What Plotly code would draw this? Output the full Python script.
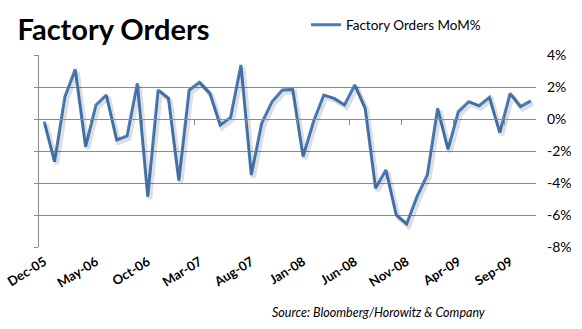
import plotly.graph_objects as go

months = ["Dec-05","Jan-06","Feb-06","Mar-06","Apr-06","May-06","Jun-06","Jul-06","Aug-06","Sep-06","Oct-06","Nov-06",
          "Dec-06","Jan-07","Feb-07","Mar-07","Apr-07","May-07","Jun-07","Jul-07","Aug-07","Sep-07","Oct-07","Nov-07",
          "Dec-07","Jan-08","Feb-08","Mar-08","Apr-08","May-08","Jun-08","Jul-08","Aug-08","Sep-08","Oct-08","Nov-08",
          "Dec-08","Jan-09","Feb-09","Mar-09","Apr-09","May-09","Jun-09","Jul-09","Aug-09","Sep-09","Oct-09","Nov-09"]
mom = [-0.17, -2.67, 1.4, 3.1, -1.73, 0.88, 1.5, -1.31, -1.06, 2.23, -4.85, 1.81,
       1.29, -3.85, 1.81, 2.29, 1.6, -0.38, 0.1, 3.38, -3.5, -0.27, 1.08, 1.81,
       1.85, -2.35, -0.17, 1.5, 1.29, 0.88, 2.13, 0.67, -4.33, -3.18, -6.0, -6.56,
       -4.85, -3.5, 0.67, -1.9, 0.46, 1.08, 0.83, 1.35, -0.85, 1.6, 0.77, 1.13]
tick_labels = ["Dec-05","May-06","Oct-06","Mar-07","Aug-07","Jan-08","Jun-08","Nov-08","Apr-09","Sep-09"]
y_ticks = [4, 2, 0, -2, -4, -6, -8]

FONT = "Lato"
n = len(months)
idx = list(range(n))
tick_idx = [months.index(t) for t in tick_labels]
yr = [-8, 4]

fig = go.Figure()
# soft shadow
fig.add_trace(go.Scatter(x=idx, y=mom, mode="lines", xaxis="x3", yaxis="y3",
                         line=dict(color="rgba(0,0,0,0.13)", width=5), hoverinfo="skip", showlegend=False))
fig.add_trace(go.Scatter(x=idx, y=mom, mode="lines", name="Factory Orders MoM%",
                         line=dict(color="#4a7ebb", width=3)))

fig.update_layout(
    width=582, height=329,
    margin=dict(l=39, r=46, t=55, b=82, autoexpand=False),
    paper_bgcolor="white", plot_bgcolor="white",
    showlegend=True,
    legend=dict(x=(306 - 39) / 497, y=1.156, xanchor="left", yanchor="middle", orientation="h",
                font=dict(family=FONT, size=13.5, color="#000"), bgcolor="rgba(0,0,0,0)"),
    title=dict(text="<b>Factory Orders</b>", x=0.03, xanchor="left", y=0.91, yanchor="middle",
               font=dict(family=FONT, size=29, color="#000")),
    xaxis=dict(range=[-0.5, n - 0.5], tickmode="array", tickvals=tick_idx, ticktext=tick_labels,
               tickangle=-32, showgrid=False, zeroline=False, showline=False, ticks="",
               ticklabelstandoff=4,
               tickfont=dict(family=FONT, size=13, color="#000", weight="bold")),
    yaxis=dict(range=yr, tickvals=y_ticks, showticklabels=False, showgrid=True, gridcolor="#8c8c8c",
               gridwidth=1, zeroline=False, showline=True, linecolor="#8c8c8c", ticks="outside",
               ticklen=4, tickcolor="#8c8c8c"),
    yaxis2=dict(range=yr, overlaying="y", side="right", tickvals=y_ticks,
                ticktext=[f"{v}%" for v in y_ticks], showgrid=False, zeroline=False, showline=False,
                ticks="", ticklabelstandoff=10, tickfont=dict(family=FONT, size=14, color="#000")),
    xaxis2=dict(range=[-0.5, n - 0.5], overlaying="x", anchor="free", position=8/12,
                tickvals=[k + 4.5 for k in range(0, n - 5, 5)], showticklabels=False,
                ticks="outside", ticklen=5, tickcolor="#8c8c8c", tickwidth=1, showline=True,
                linecolor="#8c8c8c", showgrid=False, zeroline=False),
    xaxis3=dict(range=[-0.5 - 0.2, n - 0.5 - 0.2], overlaying="x", visible=False),
    yaxis3=dict(range=[yr[0] + 0.15, yr[1] + 0.15], overlaying="y", visible=False),
    annotations=[dict(text="<i>Source: Bloomberg/Horowitz & Company</i>", xref="paper", yref="paper",
                      x=449/497, y=-0.34, xanchor="right", yanchor="middle", showarrow=False,
                      font=dict(family=FONT, size=12.5, color="#000"))],
)
# dummy trace so yaxis2 / xaxis2 get drawn
fig.add_trace(go.Scatter(x=[None], y=[None], xaxis="x2", yaxis="y2", showlegend=False, hoverinfo="skip"))

fig.write_html("out.html")
